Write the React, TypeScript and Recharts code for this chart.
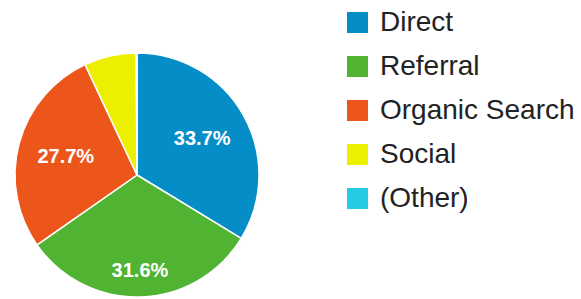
import { Legend, Pie, PieChart, Cell } from "recharts";

const sources = ["Direct", "Referral", "Organic Search", "Social", "(Other)"];
const shares = [33.7, 31.6, 27.7, 6.9, 0.1];
const colors = ["#058DC7", "#50B432", "#ED561B", "#EDEF00", "#24CBE5"];

const data = sources.map((name, i) => ({ name, value: shares[i] }));

const RADIAN = Math.PI / 180;
const LABEL_FONT = 20;

// text box sits inside the slice with its far edge on a fixed radius
function renderLabel(props: any) {
  const { cx, cy, midAngle, outerRadius, percent } = props;
  if (percent < 0.1) return null;
  const text = `${(percent * 100).toFixed(1)}%`;
  const dx = Math.cos(-midAngle * RADIAN);
  const dy = Math.sin(-midAngle * RADIAN);
  const halfW = text.length * LABEL_FONT * 0.285;
  const halfH = LABEL_FONT * 0.36;
  const extent = halfW * Math.abs(dx) + halfH * Math.abs(dy);
  const r = outerRadius * 0.845 - extent;
  return (
    <text
      x={cx + r * dx}
      y={cy + r * dy}
      fill="#fff"
      textAnchor="middle"
      dominantBaseline="central"
      fontSize={LABEL_FONT}
      fontWeight="bold"
      fontFamily="Liberation Sans, Arial, sans-serif"
    >
      {text}
    </text>
  );
}

function renderLegend() {
  return (
    <ul style={{ margin: 0, padding: 0, listStyle: "none" }}>
      {data.map((d, i) => (
        <li
          key={d.name}
          style={{ display: "flex", alignItems: "center", height: 44 }}
        >
          <span
            style={{
              display: "inline-block",
              width: 21,
              height: 21,
              background: colors[i],
              marginRight: 12,
            }}
          />
          <span style={{ fontSize: 28, color: "#222", lineHeight: "28px" }}>
            {d.name}
          </span>
        </li>
      ))}
    </ul>
  );
}

export default function App() {
  return (
    <div
      style={{
        position: "fixed",
        left: 0,
        top: 0,
        width: 581,
        height: 299,
        background: "#fff",
        fontFamily: "Liberation Sans, Arial, sans-serif",
      }}
    >
      <PieChart width={581} height={299} margin={{ top: 0, right: 0, bottom: 0, left: 0 }}>
        <Pie
          data={data}
          dataKey="value"
          nameKey="name"
          cx={137}
          cy={175}
          outerRadius={122}
          startAngle={90}
          endAngle={-270}
          stroke="#fff"
          strokeWidth={1.5}
          label={renderLabel}
          labelLine={false}
          isAnimationActive={false}
        >
          {data.map((d, i) => (
            <Cell key={d.name} fill={colors[i]} />
          ))}
        </Pie>
        <Legend
          layout="vertical"
          align="right"
          verticalAlign="top"
          content={renderLegend}
          wrapperStyle={{ left: 347, top: 0, width: 234 }}
        />
      </PieChart>
    </div>
  );
}
